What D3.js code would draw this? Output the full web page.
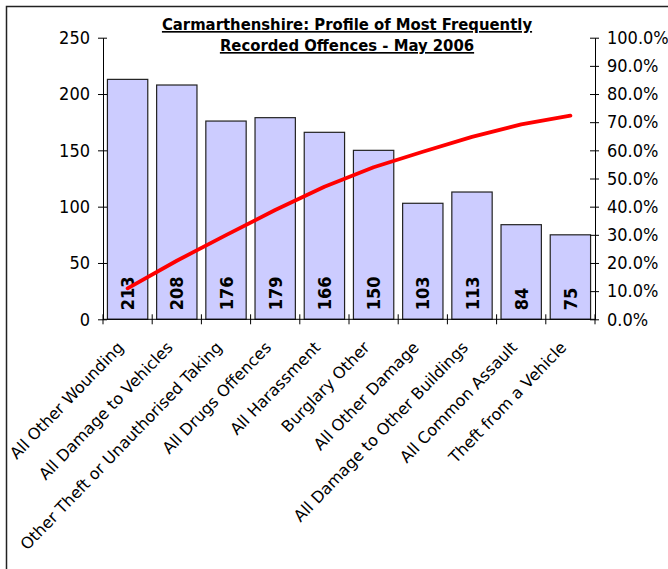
<!DOCTYPE html>
<html><head><meta charset="utf-8">
<script src="https://cdn.jsdelivr.net/npm/d3@7"></script>
<style>
html,body{margin:0;padding:0;background:#fff;}
svg{display:block;}
text{font-family:"DejaVu Sans Condensed","DejaVu Sans",sans-serif;}
</style></head>
<body>
<svg id="c" width="668" height="569"></svg>
<script>
const categories = ["All Other Wounding","All Damage to Vehicles","Other Theft or Unauthorised Taking","All Drugs Offences","All Harassment","Burglary Other","All Other Damage","All Damage to Other Buildings","All Common Assault","Theft from a Vehicle"];
const counts = [213,208,176,179,166,150,103,113,84,75];
const cumulativePct = [11.0,20.8,29.9,38.8,47.1,54.0,59.5,64.8,69.2,72.3];
const leftTicks = [0,50,100,150,200,250];
const rightTicks = [0,10,20,30,40,50,60,70,80,90,100];
const titleLines = ["Carmarthenshire: Profile of Most Frequently","Recorded Offences - May 2006"];

const svg = d3.select("#c");
svg.append("rect").attr("x",6.5).attr("y",6.5).attr("width",720).attr("height",620)
  .attr("fill","#fff").attr("stroke","#222").attr("stroke-width",1.5);

const m = {l:103, r:595, t:37.7, b:319.3};
const x = d3.scaleBand().domain(categories).range([m.l,m.r]).paddingInner(0.18).paddingOuter(0.09);
const y = d3.scaleLinear().domain([0,250]).range([m.b,m.t]);
const y2 = d3.scaleLinear().domain([0,100]).range([m.b,m.t]);

// bars
svg.append("g").selectAll("rect").data(categories).join("rect")
  .attr("x",d=>x(d)).attr("width",x.bandwidth())
  .attr("y",(d,i)=>y(counts[i])).attr("height",(d,i)=>m.b-y(counts[i]))
  .attr("fill","#ccccff").attr("stroke","#222").attr("stroke-width",1.2);

// value labels
svg.append("g").selectAll("text").data(categories).join("text")
  .attr("transform",(d,i)=>`translate(${x(d)+x.bandwidth()/2+6.5},${m.b-9}) rotate(-90)`)
  .attr("font-size",18).attr("font-weight","bold").attr("fill","#000")
  .text((d,i)=>counts[i]);

// line
const line = d3.line().x((d,i)=>x(categories[i])+x.bandwidth()/2).y(d=>y2(d));
svg.append("path").datum(cumulativePct).attr("d",line).attr("fill","none")
  .attr("stroke","#ff0000").attr("stroke-width",3.8).attr("stroke-linejoin","round").attr("stroke-linecap","round");

// left axis
const gl = svg.append("g").attr("transform",`translate(${m.l},0)`)
  .call(d3.axisLeft(y).tickValues(leftTicks).tickSize(0).tickPadding(13));
gl.select(".domain").attr("stroke","#000");
gl.selectAll(".tick line").attr("x1",-5).attr("x2",4).attr("stroke","#000");
gl.selectAll("text").attr("font-size",18).attr("fill","#000").attr("font-family",null);

// right axis
const gr = svg.append("g").attr("transform",`translate(${m.r},0)`)
  .call(d3.axisRight(y2).tickValues(rightTicks).tickFormat(d=>d.toFixed(1)+"%").tickSize(0).tickPadding(12));
gr.select(".domain").attr("stroke","#000");
gr.selectAll(".tick line").attr("x1",-5).attr("x2",4).attr("stroke","#000");
gr.selectAll("text").attr("font-size",18).attr("fill","#000").attr("font-family",null);

// bottom axis
const step = x.step();
const bTicks = d3.range(categories.length+1).map(i=>m.l+i*step);
svg.append("line").attr("x1",m.l).attr("x2",m.r).attr("y1",m.b).attr("y2",m.b).attr("stroke","#000");
svg.append("g").selectAll("line").data(bTicks).join("line")
  .attr("x1",d=>d).attr("x2",d=>d).attr("y1",m.b-5).attr("y2",m.b+5).attr("stroke","#000");

// category labels
svg.append("g").selectAll("text").data(categories).join("text")
  .attr("transform",d=>`translate(${x(d)+x.bandwidth()/2-3},${m.b+29}) rotate(-46)`)
  .attr("text-anchor","end").attr("font-size",16).attr("fill","#000")
  .style("font-family","'DejaVu Sans',sans-serif")
  .text(d=>d);

// title
const tg = svg.append("g");
titleLines.forEach((t,i)=>{
  tg.append("text").attr("x",347).attr("y",30+i*21).attr("text-anchor","middle")
    .attr("font-size",16.5).attr("font-weight","bold").attr("text-decoration","underline").attr("fill","#000")
    .text(t);
});
</script>
</body></html>
